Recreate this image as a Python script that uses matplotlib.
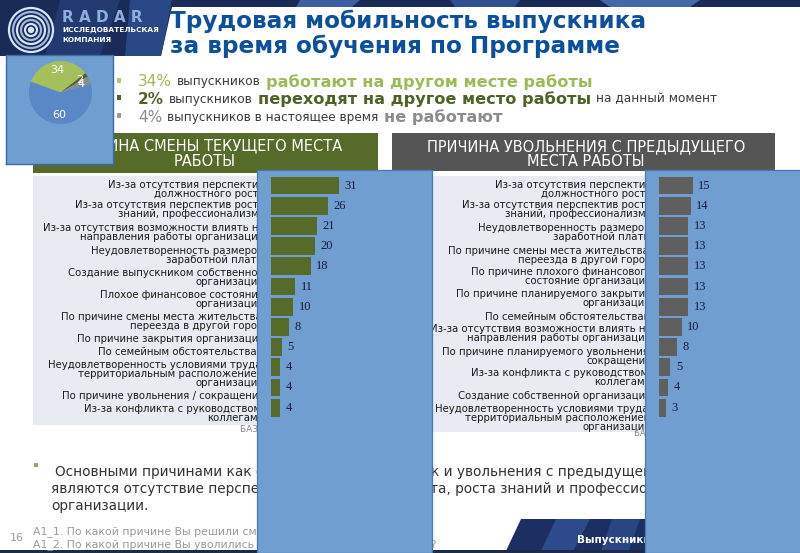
import matplotlib
matplotlib.use('Agg')
import matplotlib.pyplot as plt
from matplotlib.patches import Rectangle, Polygon, Circle

W, H = 800, 553

# ---------------- data ----------------
pie_names = ['Работают на другом месте', 'Переходят на другое место', 'Не работают', 'Прочие']
pie_values = [34, 2, 4, 60]
pie_colors = ['#a4bf5b', '#4f6228', '#8b8b8b', '#5a88c6']

left_categories = [
    'Из-за отсутствия перспектив\nдолжностного роста',
    'Из-за отсутствия перспектив роста\nзнаний, профессионализма',
    'Из-за отсутствия возможности влиять на\nнаправления работы организации',
    'Неудовлетворенность размером\nзаработной платы',
    'Создание выпускником собственной\nорганизации',
    'Плохое финансовое состояние\nорганизации',
    'По причине смены места жительства,\nпереезда в другой город',
    'По причине закрытия организации',
    'По семейным обстоятельствам',
    'Неудовлетворенность условиями труда,\nтерриториальным расположением\nорганизации',
    'По причине увольнения / сокращения',
    'Из-за конфликта с руководством,\nколлегами',
]
left_values = [31, 26, 21, 20, 18, 11, 10, 8, 5, 4, 4, 4]

right_categories = [
    'Из-за отсутствия перспектив\nдолжностного роста',
    'Из-за отсутствия перспектив роста\nзнаний, профессионализма',
    'Неудовлетворенность размером\nзаработной платы',
    'По причине смены места жительства,\nпереезда в другой город',
    'По причине плохого финансового\nсостояние организации',
    'По причине планируемого закрытия\nорганизации',
    'По семейным обстоятельствам',
    'Из-за отсутствия возможности влиять на\nнаправления работы организации',
    'По причине планируемого увольнения,\nсокращения',
    'Из-за конфликта с руководством,\nколлегами',
    'Создание собственной организации',
    'Неудовлетворенность условиями труда,\nтерриториальным расположением\nорганизации',
]
right_values = [15, 14, 13, 13, 13, 13, 13, 10, 8, 5, 4, 3]

title_lines = ['Трудовая мобильность выпускника', 'за время обучения по Программе']
left_header = 'ПРИЧИНА СМЕНЫ ТЕКУЩЕГО МЕСТА\nРАБОТЫ'
right_header = 'ПРИЧИНА УВОЛЬНЕНИЯ С ПРЕДЫДУЩЕГО\nМЕСТА РАБОТЫ'

# ---------------- layout ----------------
left_label_y = [189.5, 209.7, 232.8, 255.5, 277.5, 299.7, 321.7, 339.3, 351.7, 373.8, 396, 413.3]
right_label_y = [189.5, 209.7, 232.8, 255.5, 276.7, 298.3, 316.7, 333.3, 356.7, 377.7, 396, 418.3]

PANEL = '#709ed1'
PANEL_EDGE = '#4a78b0'
NAVY = '#1b2b57'

fig = plt.figure(figsize=(8, 5.53), dpi=100)
bg = fig.add_axes([0, 0, 1, 1], zorder=0)
bg.set_xlim(0, W)
bg.set_ylim(H, 0)
bg.axis('off')
renderer = fig.canvas.get_renderer()


def px_axes(x0, y0, x1, y1, z):
    return fig.add_axes([x0 / W, 1 - y1 / H, (x1 - x0) / W, (y1 - y0) / H], zorder=z)


# ---- top header band ----
bg.add_patch(Polygon([(0, 0), (800, 0), (800, 7), (172, 7), (161, 56), (0, 56)],
                     closed=True, color=NAVY, lw=0))
for pts, c in [([(60, 0), (120, 0), (100, 56), (45, 56)], '#223a70'),
               ([(130, 0), (172, 0), (161, 56), (125, 56)], '#2a4785'),
               ([(300, 0), (360, 0), (352, 7), (296, 7)], '#3b5fa0'),
               ([(450, 0), (520, 0), (515, 7), (455, 7)], '#2f4f8e'),
               ([(600, 0), (700, 0), (690, 7), (610, 7)], '#4468a8')]:
    bg.add_patch(Polygon(pts, closed=True, color=c, lw=0))
for r, c in [(22, '#d9e6f6'), (18, '#9dbbe3'), (14, '#d9e6f6'), (10, '#9dbbe3'), (6, '#d9e6f6')]:
    bg.add_patch(Circle((31, 30), r, fill=False, ec=c, lw=1.6))
bg.add_patch(Circle((31, 30), 2.5, color='#d9e6f6'))
bg.text(62, 17, 'R A D A R', color='#8eaedb', fontsize=11, fontweight='bold', va='center', ha='left')
bg.text(62, 30, 'ИССЛЕДОВАТЕЛЬСКАЯ', color='white', fontsize=5.3, fontweight='bold', va='center', ha='left')
bg.text(62, 40, 'КОМПАНИЯ', color='white', fontsize=5.3, fontweight='bold', va='center', ha='left')

# ---- title ----
bg.text(170, 21, title_lines[0], color='#0b4f9f', fontsize=16.7, fontweight='bold', va='center', ha='left')
bg.text(170, 46, title_lines[1], color='#0b4f9f', fontsize=16.7, fontweight='bold', va='center', ha='left')

# ---- bullet lines ----
GREEN, OLIVE, GRAY, DARK = '#9bbb59', '#4f6228', '#8c8c8c', '#3a3a3a'
bullet_lines = [
    (82, '#b3c77f', [('34%', GREEN, 11, 'normal'), ('выпускников', DARK, 8.7, 'normal'),
                     ('работают на другом месте работы', GREEN, 11.6, 'bold')]),
    (99, OLIVE, [('2%', OLIVE, 11, 'bold'), ('выпускников', DARK, 8.7, 'normal'),
                 ('переходят на другое место работы', OLIVE, 11.6, 'bold'),
                 ('на данный момент', DARK, 8.7, 'normal')]),
    (117, '#9a9a9a', [('4%', GRAY, 11, 'normal'), ('выпускников в настоящее время', DARK, 8.7, 'normal'),
                      ('не работают', GRAY, 11.6, 'bold')]),
]
for y, bc, parts in bullet_lines:
    bg.add_patch(Rectangle((116.5, y - 4), 4.5, 4.5, color=bc, lw=0))
    x = 138
    for s, c, fs, fw in parts:
        t = bg.text(x, y, s, color=c, fontsize=fs, fontweight=fw, va='center', ha='left')
        bb = t.get_window_extent(renderer)
        x += bb.width + 5

# ---- section headers ----
bg.add_patch(Rectangle((33, 133), 345, 40, color='#566a29', lw=0))
bg.add_patch(Rectangle((392, 133), 383, 38, color='#555555', lw=0))
bg.text(205, 153.5, left_header, color='white', fontsize=10.5, ha='center', va='center',
        multialignment='center', linespacing=1.0)
bg.text(586, 154, right_header, color='white', fontsize=10.5, ha='center', va='center',
        multialignment='center', linespacing=1.0)

# ---- label backgrounds ----
bg.add_patch(Rectangle((33, 176), 225, 249, color='#e8ebf1', lw=0))
bg.add_patch(Rectangle((392, 176), 253, 256, color='#e8ebf1', lw=0))

for lab, y in zip(left_categories, left_label_y):
    bg.text(264.5, y, lab, fontsize=7.3, color='#1a1a1a', ha='right', va='center',
            multialignment='right', linespacing=0.88)
for lab, y in zip(right_categories, right_label_y):
    bg.text(651.5, y, lab, fontsize=7.3, color='#1a1a1a', ha='right', va='center',
            multialignment='right', linespacing=0.88)
bg.text(240, 430, 'БАЗА: все опрошенные', fontsize=6.5, color='#8a8a8a', ha='left', va='center')
bg.text(634, 433, 'БАЗА: все опрошенные', fontsize=6, color='#8a8a8a', ha='left', va='center')

# ---- bottom conclusion text ----
bg.add_patch(Rectangle((34, 463), 4, 4, color='#a0a070', lw=0))
summary = [(55, 472, 'Основными причинами как смены места работы, так и увольнения с предыдущего места работы'),
           (51, 489, 'являются отсутствие перспектив должностного роста, роста знаний и профессионализма внутри'),
           (51, 506, 'организации.')]
for x, y, s in summary:
    bg.text(x, y, s, fontsize=9.8, color='#333333', ha='left', va='center')

# ---- bottom band ----
bg.add_patch(Polygon([(505, 553), (521, 519), (800, 519), (800, 553)], closed=True, color='#1c2f62', lw=0))
bg.add_patch(Polygon([(540, 553), (556, 519), (590, 519), (572, 553)], closed=True, color='#2c4a8c', lw=0))
bg.add_patch(Polygon([(600, 553), (612, 519), (640, 519), (628, 553)], closed=True, color='#2a4584', lw=0))
bg.add_patch(Rectangle((0, 550), 800, 3, color='#1e2a4a', lw=0))
bg.text(577, 540, 'Выпускники', color='white', fontsize=7.5, fontweight='bold', ha='left', va='center')

# ---- footer ----
bg.text(10, 538, '16', fontsize=8, color='#9a9a9a', ha='left', va='center')
bg.text(33, 532, 'А1_1. По какой причине Вы решили сменить место работы?', fontsize=7.8,
        color='#9a9a9a', ha='left', va='center')
bg.text(33, 545, 'А1_2. По какой причине Вы уволились с предыдущего места работы?', fontsize=7.8,
        color='#9a9a9a', ha='left', va='center')


# ---- bar panels ----
def bar_panel(x0, x1, start_px, scale, values, color):
    ax = px_axes(x0, 170, x1, 553, 2)
    ax.set_facecolor(PANEL)
    ypos = list(range(len(values)))
    ax.barh(ypos, values, height=0.89, color=color, lw=0)
    for v, y in zip(values, ypos):
        ax.annotate(str(v), (v, y), xytext=(4, 0), textcoords='offset points', va='center', ha='left',
                    fontsize=9, family='Liberation Serif', color='#1a1a3a')
    ax.set_xlim(-(start_px - x0) / scale, (x1 - start_px) / scale)
    ax.set_ylim((553 - 185.5) / 20.2, (170 - 185.5) / 20.2)
    ax.set_xticks([])
    ax.set_yticks([])
    for sp in ax.spines.values():
        sp.set_color(PANEL_EDGE)
        sp.set_linewidth(0.9)
    return ax


bar_panel(257, 432, 271, 2.2, left_values, '#566a29')
bar_panel(645, 805, 659, 2.25, right_values, '#5f5f5f')

# ---- pie panel ----
pax = px_axes(6, 55, 113, 164, 3)
pax.pie(pie_values, colors=pie_colors, startangle=160, counterclock=False,
        center=(54.5, 71.5), radius=31.5,
        autopct=lambda p: f'{round(p)}', pctdistance=0.72,
        textprops=dict(color='white', fontsize=8), wedgeprops=dict(lw=0))
pax.set_aspect('auto')
pax.set_xlim(0, 107)
pax.set_ylim(0, 109)
pax.set_frame_on(True)
pax.set_facecolor(PANEL)
pax.set_xticks([])
pax.set_yticks([])
for sp in pax.spines.values():
    sp.set_color('#3d6aa8')
    sp.set_linewidth(1.0)

fig.savefig('out.png', dpi=100)
